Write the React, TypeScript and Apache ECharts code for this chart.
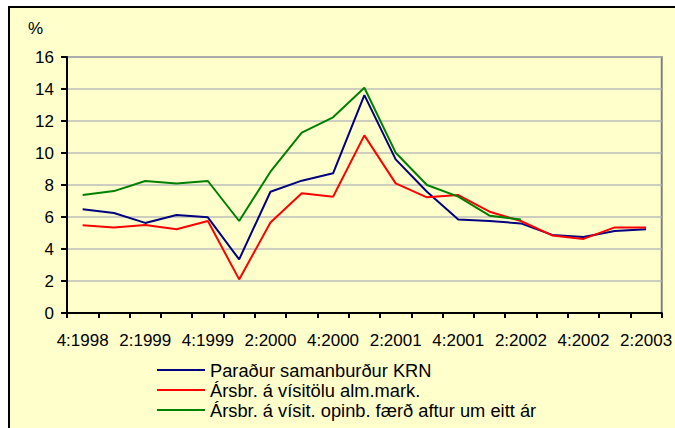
import React, { useEffect, useRef } from "react";
import * as echarts from "echarts";

const categories = [
  "4:1998", "1:1999", "2:1999", "3:1999", "4:1999",
  "1:2000", "2:2000", "3:2000", "4:2000",
  "1:2001", "2:2001", "3:2001", "4:2001",
  "1:2002", "2:2002", "3:2002", "4:2002",
  "1:2003", "2:2003",
];

const seriesNames = [
  "Paraður samanburður KRN",
  "Ársbr. á vísitölu alm.mark.",
  "Ársbr. á vísit. opinb. færð aftur um eitt ár",
];

const blueValues = [6.48, 6.25, 5.63, 6.12, 5.98, 3.35, 7.58, 8.27, 8.73, 13.62, 9.6, 7.58, 5.85, 5.75, 5.6, 4.88, 4.75, 5.12, 5.23];
const redValues = [5.48, 5.35, 5.5, 5.23, 5.75, 2.1, 5.65, 7.48, 7.27, 11.1, 8.1, 7.23, 7.37, 6.33, 5.75, 4.85, 4.63, 5.35, 5.35];
const greenValues = [7.37, 7.62, 8.25, 8.1, 8.25, 5.75, 8.83, 11.27, 12.23, 14.08, 10.02, 8.0, 7.27, 6.08, 5.85, null, null, null, null];

const colors = ["#000080", "#FF0000", "#008000"];
const FONT = 'Arial, "Liberation Sans", sans-serif';

export default function App() {
  const ref = useRef<HTMLDivElement>(null);

  useEffect(() => {
    if (!ref.current) return;
    const chart = echarts.init(ref.current, null, { renderer: "svg" });
    const values = [blueValues, redValues, greenValues];
    chart.setOption({
      animation: false,
      backgroundColor: "transparent",
      textStyle: { fontFamily: FONT },
      grid: {
        left: 67,
        top: 57,
        right: 10,
        bottom: 115,
        show: true,
        borderColor: "#808080",
        borderWidth: 2,
        backgroundColor: "transparent",
      },
      graphic: [
        {
          type: "text",
          left: 28,
          top: 20,
          style: { text: "%", fontSize: 17, fontFamily: FONT, fill: "#000" },
        },
      ],
      legend: {
        orient: "vertical",
        left: 157,
        top: 360,
        icon: "rect",
        itemWidth: 48,
        itemHeight: 2,
        itemGap: 0,
        padding: 0,
        data: seriesNames,
        textStyle: { fontSize: 18.3, lineHeight: 20, color: "#000", fontFamily: FONT },
      },
      xAxis: {
        type: "category",
        data: categories,
        boundaryGap: true,
        axisLine: { lineStyle: { color: "#000", width: 2 } },
        axisTick: { show: true, interval: 0, length: 5, lineStyle: { color: "#000", width: 2 } },
        axisLabel: { interval: 1, fontSize: 17, color: "#000", margin: 19, fontFamily: FONT },
        splitLine: { show: false },
      },
      yAxis: {
        type: "value",
        min: 0,
        max: 16,
        interval: 2,
        axisLine: { show: true, lineStyle: { color: "#000", width: 2 } },
        axisTick: { show: true, length: 6, lineStyle: { color: "#000", width: 2 } },
        axisLabel: { fontSize: 17, color: "#000", margin: 13, fontFamily: FONT },
        splitLine: { show: true, lineStyle: { color: "#BDBDBD", width: 1.5 } },
      },
      series: seriesNames.map((name, i) => ({
        name,
        type: "line",
        data: values[i],
        showSymbol: false,
        symbol: "none",
        connectNulls: false,
        color: colors[i],
        lineStyle: { color: colors[i], width: 2 },
      })),
    });
    return () => chart.dispose();
  }, []);

  return (
    <div style={{ position: "absolute", left: 0, top: 0, width: 675, height: 428, background: "#fff", overflow: "hidden" }}>
      <div
        style={{
          position: "absolute",
          left: 8,
          top: 6,
          width: 667,
          height: 422,
          boxSizing: "border-box",
          background: "#FFFFCC",
          borderTop: "2px solid #000",
          borderLeft: "2px solid #000",
        }}
      />
      <div ref={ref} style={{ position: "absolute", left: 0, top: 0, width: 675, height: 428 }} />
    </div>
  );
}
